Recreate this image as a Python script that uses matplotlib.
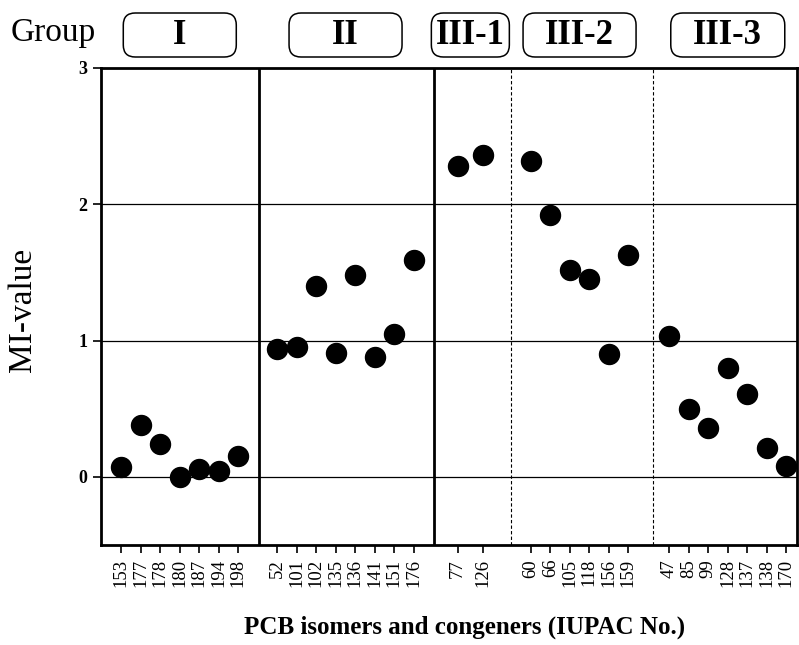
import numpy as np
import matplotlib.pyplot as plt
from matplotlib.patches import FancyBboxPatch
from matplotlib.transforms import IdentityTransform

plt.rcParams['font.family'] = ['Liberation Serif', 'DejaVu Serif']

# data: PCB numbers and MI-values per group
group_names = ['I', 'II', 'III-1', 'III-2', 'III-3']
pcb_I = ['153', '177', '178', '180', '187', '194', '198']
mi_I = [0.07, 0.38, 0.24, 0.0, 0.06, 0.04, 0.15]
pcb_II = ['52', '101', '102', '135', '136', '141', '151', '176']
mi_II = [0.94, 0.95, 1.40, 0.91, 1.48, 0.88, 1.05, 1.59]
pcb_III1 = ['77', '126']
mi_III1 = [2.28, 2.36]
pcb_III2 = ['60', '66', '105', '118', '156', '159']
mi_III2 = [2.32, 1.92, 1.52, 1.45, 0.90, 1.63]
pcb_III3 = ['47', '85', '99', '128', '137', '138', '170']
mi_III3 = [1.03, 0.50, 0.36, 0.80, 0.61, 0.21, 0.08]

labels = [pcb_I, pcb_II, pcb_III1, pcb_III2, pcb_III3]
values = [mi_I, mi_II, mi_III1, mi_III2, mi_III3]

# layout of the category axis
starts = [0, 8, 17.25, 21, 28.1]
steps = [1, 1, 1.3, 1, 1]
seps = [7.05, 16.05, 20.0, 27.25]
sep_styles = ['-', '-', (0, (3, 2)), (0, (3, 2))]
sep_widths = [2.0, 2.0, 0.8, 0.8]
box_width = [113, 113, 78, 113, 114]  # pixels

fig = plt.figure(figsize=(7.99, 6.45), dpi=100)
ax = fig.add_axes([101 / 799, 1 - 545 / 645, 696 / 799, 477 / 645])

xs, ys, ticklabels = [], [], []
for s, st, lab, val in zip(starts, steps, labels, values):
    pos = s + st * np.arange(len(lab))
    xs.extend(pos)
    ys.extend(val)
    ticklabels.extend(lab)

for y in [0, 1, 2]:
    ax.axhline(y, color='black', lw=0.9, zorder=1)
for x, ls, lw in zip(seps, sep_styles, sep_widths):
    ax.axvline(x, color='black', ls=ls, lw=lw, zorder=1)

ax.plot(xs, ys, 'o', color='black', ms=14.4, zorder=3)

ax.set_xlim(-1.04, 34.65)
ax.set_ylim(-0.5, 3)
ax.set_xticks(xs)
ax.set_xticklabels(ticklabels, rotation=90, fontsize=13.5)
ax.set_yticks([0, 1, 2, 3])
ax.set_yticklabels(['0', '1', '2', '3'], fontsize=13, fontweight='bold')
ax.tick_params(axis='x', length=6, width=1.2, pad=4)
ax.tick_params(axis='y', length=6, width=1.2, pad=4)
for sp in ax.spines.values():
    sp.set_linewidth(2.0)

# group boxes above the plot
fig.canvas.draw()
H = 645
for i, name in enumerate(group_names):
    n = len(labels[i])
    cx = starts[i] + steps[i] * (n - 1) / 2
    px = ax.transData.transform((cx, 0))[0]
    w = box_width[i]
    box = FancyBboxPatch((px - w / 2, H - 57), w, 44,
                         boxstyle='round,pad=0,rounding_size=12',
                         transform=IdentityTransform(),
                         facecolor='white', edgecolor='black', lw=1.1)
    fig.add_artist(box)
    fig.text(px / 799, 1 - 35 / 645, name, ha='center', va='center',
             fontsize=25, fontweight='bold')

fig.text(53 / 799, 1 - 33 / 645, 'Group', ha='center', va='center', fontsize=24)
fig.text(23 / 799, 1 - 310 / 645, 'MI-value', rotation=90,
         ha='center', va='center', fontsize=24)
fig.text(465 / 799, 1 - 627 / 645, 'PCB isomers and congeners (IUPAC No.)',
         ha='center', va='center', fontsize=18, fontweight='bold')

fig.savefig('out.png', dpi=100)
